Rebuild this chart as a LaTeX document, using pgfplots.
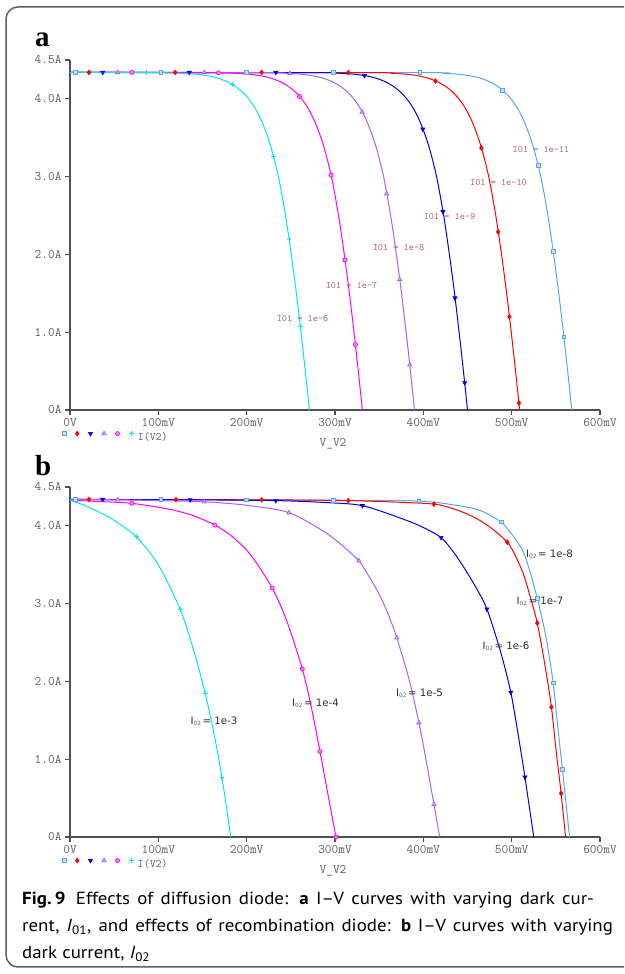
\documentclass[border=0pt]{standalone}
\usepackage{fontspec}
\setmainfont{PT Sans}
\newfontfamily\labelserif{Liberation Serif}
\newfontfamily\dejavu{DejaVu Sans}
\usepackage{graphicx}
\usepackage{pgfplots}
\pgfplotsset{compat=1.18}

\definecolor{clb}{RGB}{90,165,245}
\definecolor{cred}{RGB}{255,0,0}
\definecolor{cblue}{RGB}{0,0,235}
\definecolor{cpur}{RGB}{170,95,245}
\definecolor{cmag}{RGB}{255,0,255}
\definecolor{ccyan}{RGB}{0,232,240}
\definecolor{axgray}{RGB}{80,80,80}
\definecolor{tickgray}{RGB}{95,95,95}
\definecolor{lblrose}{RGB}{180,95,95}
\definecolor{lbldark}{RGB}{45,45,45}
\definecolor{framegray}{RGB}{95,95,95}

\tikzset{
  mlb/.style={mark=square*, mark size=1.9pt, mark options={fill=clb!35, line width=0.8pt}},
  mred/.style={mark=diamond*, mark size=2.4pt, mark options={fill=cred, line width=0.6pt}},
  mblue/.style={mark=triangle*, mark size=2.4pt, mark options={rotate=180, fill=cblue, line width=0.6pt}},
  mpur/.style={mark=triangle*, mark size=2.4pt, mark options={fill=cpur!40, line width=0.8pt}},
  mmag/.style={mark=*, mark size=2pt, mark options={fill=cmag!40, line width=0.8pt}},
  mcyan/.style={mark=+, mark size=2.4pt, mark options={line width=0.9pt}},
}

\pgfplotsset{
  spice/.style={
    scale only axis, width=530pt, height=350pt,
    xmin=0, xmax=600, ymin=0, ymax=4.5,
    axis lines*=left,
    axis line style={draw=axgray, line width=1.4pt},
    tick align=outside, major tick length=5pt,
    every tick/.style={draw=axgray, line width=1.2pt},
    xtick={0,100,200,300,400,500,600},
    xticklabels={0V,100mV,200mV,300mV,400mV,500mV,600mV},
    ytick={0,1,2,3,4,4.5},
    yticklabels={0A,1.0A,2.0A,3.0A,4.0A,4.5A},
    ticklabel style={font=\ttfamily\fontsize{13}{13}\selectfont, text=tickgray},
    xlabel={V\_V2},
    xlabel style={font=\ttfamily\fontsize{13}{13}\selectfont, text=tickgray,
      at={(axis description cs:0.5,0)}, anchor=center, yshift=-34pt, xshift=-2pt},
    legend style={draw=none, fill=none, at={(axis description cs:0,0)},
      anchor=north west, xshift=-8pt, yshift=-21pt, legend columns=-1,
      inner sep=0pt, column sep=4.2pt,
      font=\ttfamily\fontsize{11.5}{11.5}\selectfont, text=tickgray,
      nodes={inner sep=0pt}},
    every axis plot/.append style={line width=1pt},
  },
}

\newcommand{\Ila}[1]{I01 = 1e-#1}
\newcommand{\Ilb}[1]{I\raisebox{-1.2pt}{\fontsize{5.8}{5.8}\selectfont\color{tickgray}02}\,= 1e-#1}

\begin{document}
\begin{tikzpicture}[x=1pt,y=1pt]
\useasboundingbox (0,0) rectangle (624,974);
\begin{scope}
\clip (0,0) rectangle (624,974);
\draw[framegray, line width=1.5pt, rounded corners=12pt] (6,7) rectangle (640,967);
\end{scope}

% ---------- panel a ----------
\begin{axis}[spice, at={(70pt,564pt)}, anchor=south west,
  legend image code/.code={\draw[#1,/tikz/only marks] plot coordinates {(0pt,3.5pt)};}]
\addlegendimage{clb, mlb}\addlegendentry{\relax}
\addlegendimage{cred, mred}\addlegendentry{\relax}
\addlegendimage{cblue, mblue}\addlegendentry{\relax}
\addlegendimage{cpur, mpur}\addlegendentry{\relax}
\addlegendimage{cmag, mmag}\addlegendentry{\relax}
\addlegendimage{ccyan, mcyan}\addlegendentry{I(V2)}

\addplot[clb, smooth, forget plot] coordinates {(0,4.34) (396,4.337) (421.7,4.33) (436.6,4.32) (451.4,4.30) (463.4,4.27) (475,4.22) (485.5,4.15) (495.5,4.05) (505.5,3.9) (514.5,3.7) (524,3.4) (533,3.0) (541,2.5) (547.5,2.0) (553.3,1.5) (558.5,1.0) (563.4,0.5) (568,0)};
\addplot[clb, only marks, mlb, forget plot] coordinates {(5.7,4.34) (103,4.34) (200,4.34) (298,4.34) (396,4.337) (489.5,4.11) (530,3.14) (547,2.04) (559.1,0.94)};

\addplot[cred, smooth, forget plot] coordinates {(0,4.34) (337,4.337) (362.7,4.33) (377.6,4.32) (392.4,4.30) (404.4,4.27) (416,4.22) (426.5,4.15) (436.5,4.05) (446.5,3.9) (455.5,3.7) (465,3.4) (474,3.0) (482,2.5) (488.5,2.0) (494.3,1.5) (499.5,1.0) (504.4,0.5) (509,0)};
\addplot[cred, only marks, mred, forget plot] coordinates {(21.5,4.34) (119,4.34) (217,4.34) (315,4.338) (413.7,4.23) (465.7,3.37) (484.7,2.29) (497.4,1.20) (508.2,0.09)};

\addplot[cblue, smooth, forget plot] coordinates {(0,4.34) (278,4.337) (303.7,4.33) (318.6,4.32) (333.4,4.30) (345.4,4.27) (357,4.22) (367.5,4.15) (377.5,4.05) (387.5,3.9) (396.5,3.7) (406,3.4) (415,3.0) (423,2.5) (429.5,2.0) (435.3,1.5) (440.5,1.0) (445.4,0.5) (450,0)};
\addplot[cblue, only marks, mblue, forget plot] coordinates {(37,4.34) (135,4.34) (233,4.34) (333.4,4.30) (399.4,3.61) (422.2,2.55) (435.9,1.44) (446.8,0.35)};

\addplot[cpur, smooth, forget plot] coordinates {(0,4.34) (218,4.337) (243.7,4.33) (258.6,4.32) (273.4,4.30) (285.4,4.27) (297,4.22) (307.5,4.15) (317.5,4.05) (327.5,3.9) (336.5,3.7) (346,3.4) (355,3.0) (363,2.5) (369.5,2.0) (375.3,1.5) (380.5,1.0) (385.4,0.5) (390,0)};
\addplot[cpur, only marks, mpur, forget plot] coordinates {(54,4.34) (152,4.34) (249,4.328) (330.7,3.83) (358.5,2.78) (373.2,1.68) (384.6,0.58)};

\addplot[cmag, smooth, forget plot] coordinates {(0,4.34) (159,4.337) (184.7,4.33) (199.6,4.32) (214.4,4.30) (226.4,4.27) (238,4.22) (248.5,4.15) (258.5,4.05) (268.5,3.9) (277.5,3.7) (287,3.4) (296,3.0) (304,2.5) (310.5,2.0) (316.3,1.5) (321.5,1.0) (326.4,0.5) (331,0)};
\addplot[cmag, only marks, mmag, forget plot] coordinates {(70,4.34) (168,4.335) (259.8,4.03) (295.6,3.02) (311.3,1.93) (323.1,0.84)};

\addplot[ccyan, smooth, forget plot] coordinates {(0,4.34) (99,4.337) (124.7,4.33) (139.6,4.32) (154.4,4.30) (166.4,4.27) (178,4.22) (188.5,4.15) (198.5,4.05) (208.5,3.9) (217.5,3.7) (227,3.4) (236,3.0) (244,2.5) (250.5,2.0) (256.3,1.5) (261.5,1.0) (266.4,0.5) (271,0)};
\addplot[ccyan, only marks, mcyan, forget plot] coordinates {(87,4.338) (184,4.18) (230.2,3.26) (248,2.19) (260.7,1.08)};
\end{axis}

% ---------- panel b ----------
\begin{axis}[spice, at={(70pt,137pt)}, anchor=south west,
  legend image code/.code={\draw[#1,/tikz/only marks] plot coordinates {(0pt,3.5pt)};}]
\addlegendimage{clb, mlb}\addlegendentry{\relax}
\addlegendimage{cred, mred}\addlegendentry{\relax}
\addlegendimage{cblue, mblue}\addlegendentry{\relax}
\addlegendimage{cpur, mpur}\addlegendentry{\relax}
\addlegendimage{cmag, mmag}\addlegendentry{\relax}
\addlegendimage{ccyan, mcyan}\addlegendentry{I(V2)}

\addplot[clb, smooth, forget plot] coordinates {(0,4.34) (200,4.335) (298,4.33) (395,4.32) (445,4.25) (466,4.19) (488,4.05) (501,3.88) (513,3.67) (521,3.40) (529,3.07) (535,2.78) (540,2.50) (547,1.98) (551,1.55) (555,1.12) (560,0.60) (565.5,0)};
\addplot[clb, only marks, mlb, forget plot] coordinates {(5.7,4.34) (103,4.338) (200,4.335) (298,4.33) (395,4.32) (488,4.05) (529,3.07) (547,1.98) (557.5,0.87)};

\addplot[cred, smooth, forget plot] coordinates {(0,4.34) (217,4.335) (315,4.325) (370,4.305) (412,4.28) (434,4.22) (456,4.12) (476,3.98) (495,3.79) (504,3.62) (513,3.39) (521,3.09) (529,2.75) (537.5,2.22) (545,1.67) (550,1.14) (556,0.56) (561,0)};
\addplot[cred, only marks, mred, forget plot] coordinates {(21.5,4.34) (120,4.338) (217,4.335) (315,4.325) (412,4.28) (495,3.79) (529,2.75) (545,1.67) (556,0.56)};

\addplot[cblue, smooth, forget plot] coordinates {(0,4.34) (136,4.335) (233,4.325) (290,4.30) (331,4.26) (374,4.10) (398,3.99) (420,3.85) (435,3.65) (449,3.41) (461,3.18) (472,2.93) (487,2.40) (499,1.86) (508,1.27) (515,0.77) (525,0)};
\addplot[cblue, only marks, mblue, forget plot] coordinates {(37,4.34) (136,4.335) (233,4.325) (331,4.26) (420,3.85) (472,2.93) (499,1.86) (515,0.77)};

\addplot[cpur, smooth, forget plot] coordinates {(0,4.34) (54,4.335) (100,4.325) (152,4.31) (200,4.265) (248,4.17) (287,3.93) (307,3.76) (327,3.55) (339,3.34) (351,3.10) (361,2.84) (370,2.56) (384,2.02) (395,1.47) (401,1.12) (412,0.42) (418.5,0)};
\addplot[cpur, only marks, mpur, forget plot] coordinates {(54,4.335) (152,4.31) (248,4.17) (327,3.55) (370,2.56) (395,1.47) (412,0.42)};

\addplot[cmag, smooth, forget plot] coordinates {(0,4.33) (40,4.31) (70,4.29) (100,4.24) (120,4.195) (140,4.13) (164,4.01) (185,3.85) (205,3.62) (229,3.20) (246,2.76) (263,2.16) (273,1.68) (283,1.10) (292,0.55) (301,0)};
\addplot[cmag, only marks, mmag, forget plot] coordinates {(70,4.29) (164,4.01) (229,3.20) (263,2.16) (283,1.10) (301,0)};

\addplot[ccyan, smooth, forget plot] coordinates {(0,4.33) (15,4.27) (34,4.17) (50,4.07) (75,3.86) (100,3.50) (125,2.92) (140,2.40) (153,1.85) (163,1.33) (172,0.77) (182,0)};
\addplot[ccyan, only marks, mcyan, forget plot] coordinates {(75,3.86) (125,2.92) (153,1.85) (172,0.77)};
\end{axis}

% curve labels, panel a
\begin{scope}[every node/.style={font=\ttfamily\fontsize{9.8}{9.8}\selectfont, text=lblrose, inner sep=0pt}]
\node at (541,824) {\Ila{11}};
\node at (498.5,791) {\Ila{10}};
\node at (449.5,757) {\Ila{9}};
\node at (398.5,726) {\Ila{8}};
\node at (351.5,689) {\Ila{7}};
\node at (302.5,655) {\Ila{6}};
\end{scope}

% curve labels, panel b
\begin{scope}[every node/.style={font=\dejavu\fontsize{10.2}{10.2}\selectfont, text=lbldark, inner sep=0pt}]
\node at (549.5,420) {\Ilb{8}};
\node at (540,373) {\Ilb{7}};
\node at (506,328) {\Ilb{6}};
\node at (419.5,281) {\Ilb{5}};
\node at (315.5,271) {\Ilb{4}};
\node at (214,253) {\Ilb{3}};
\end{scope}

% panel letters
\node[anchor=base west, inner sep=0pt, font=\labelserif\bfseries\fontsize{29}{29}\selectfont] at (35,927) {a};
\node[anchor=base west, inner sep=0pt, font=\labelserif\bfseries\fontsize{29}{29}\selectfont] at (35,498) {b};

% caption
\begin{scope}[every node/.style={anchor=base west, inner sep=0pt, font=\fontsize{17.5}{21}\selectfont}]
\node at (22,69) {\scalebox{1.08}[1]{\makebox[529.5pt][s]{\textbf{Fig.\,9}\hspace{0.55em}Effects of diffusion diode: \textbf{a} I--V curves with varying dark cur-}}};
\node at (22,42) {\scalebox{1.08}[1]{\makebox[547pt][s]{rent, \textit{I}\textsubscript{01}, and effects of recombination diode: \textbf{b} I--V curves with varying}}};
\node at (22,15) {\scalebox{1.08}[1]{dark current, \textit{I}\textsubscript{02}}};
\end{scope}
\end{tikzpicture}
\end{document}
